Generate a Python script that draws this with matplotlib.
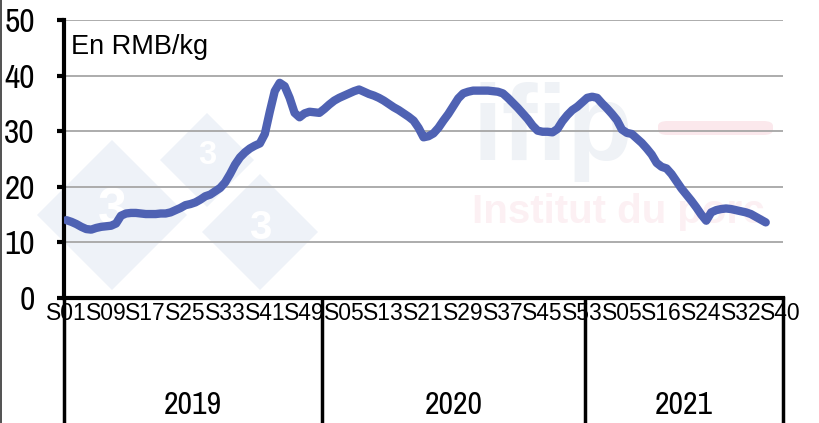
import matplotlib
matplotlib.use("Agg")
import matplotlib.pyplot as plt
from matplotlib import font_manager as fm
from matplotlib.patches import Polygon, FancyBboxPatch

# 豚価格（中国）RMB/kg、週次
price_2019 = [14.0, 13.7, 13.3, 12.8, 12.4, 12.3, 12.6, 12.8, 12.9, 13.0,
              13.4, 14.8, 15.2, 15.3, 15.3, 15.2, 15.1, 15.1, 15.1, 15.2,
              15.2, 15.4, 15.8, 16.2, 16.7, 16.9, 17.2, 17.7, 18.3, 18.6,
              19.2, 19.8, 20.8, 22.3, 24.0, 25.3, 26.2, 26.9, 27.4, 27.8,
              29.5, 33.5, 37.2, 38.7, 38.1, 36.0, 33.3, 32.5, 33.2, 33.5,
              33.4, 33.3]
price_2020 = [34.0, 34.8, 35.5, 36.0, 36.4, 36.8, 37.2, 37.5, 37.1, 36.7,
              36.4, 36.0, 35.5, 34.9, 34.3, 33.8, 33.2, 32.6, 31.9, 30.6,
              28.9, 29.1, 29.6, 30.6, 31.9, 33.1, 34.5, 35.9, 36.8, 37.1,
              37.3, 37.3, 37.3, 37.3, 37.2, 37.1, 36.8, 36.0, 35.1, 34.2,
              33.2, 32.2, 31.0, 30.1, 29.9, 29.9, 29.8, 30.4, 31.8, 32.9,
              33.8, 34.4, 35.2]
price_2021 = [36.0, 36.2, 36.0, 35.0, 34.1, 33.1, 32.0, 30.3, 29.7, 29.5,
              28.7, 27.9, 26.9, 25.8, 24.3, 23.6, 23.3, 22.3, 21.0, 19.7,
              18.6, 17.5, 16.3, 15.0, 13.9, 15.4, 15.8, 16.0, 16.1, 16.0,
              15.8, 15.6, 15.4, 15.1, 14.6, 14.1, 13.6]
n_2021 = 40  # 2021 のカテゴリ数（S40 まで）

years = ["2019", "2020", "2021"]
week_labels = ["S01", "S09", "S17", "S25", "S33", "S41", "S49",
               "S05", "S13", "S21", "S29", "S37", "S45", "S53",
               "S05", "S16", "S24", "S32", "S40"]
label_step = 8

LINE = "#4f62b3"


def condensed_font(size):
    """Narrow / condensed な書体を探す（無ければ Liberation Sans）"""
    cands = []
    for f in fm.fontManager.ttflist:
        narrow = ("Narrow" in f.name or "Condensed" in f.name
                  or f.stretch in ("condensed", "semi-condensed", 400, 300))
        if narrow and f.style == "normal" and f.weight in ("normal", 400, "regular"):
            cands.append(f)
    if cands:
        cands.sort(key=lambda f: (0 if "Liberation" in f.name else 1, f.name))
        return fm.FontProperties(fname=cands[0].fname, size=size)
    return fm.FontProperties(family="Liberation Sans", size=size * 0.85)


fig = plt.figure(figsize=(8.2, 4.23), dpi=100)
ax = fig.add_axes([0.078, 0.2955, 0.877, 0.6572])
ax.set_zorder(1)
ax.set_facecolor("none")

# 透かし（ifip ロゴ）
W, H = 820, 423
for cx, cy, r in [(112, 215, 75), (207, 160, 47), (260, 232, 58)]:
    fx, fy, rx, ry = cx / W, 1 - cy / H, r / W, r / H
    fig.patches.append(Polygon([(fx - rx, fy), (fx, fy + ry), (fx + rx, fy), (fx, fy - ry)],
                               closed=True, transform=fig.transFigure,
                               facecolor="#eef2f8", edgecolor="none", zorder=0))
    fig.text(fx, fy + 0.01, "3", fontsize=r * 0.5, fontweight="bold", color="white",
             family="Liberation Sans", ha="center", va="center", zorder=0.2)
fig.text(473 / W, 1 - 160 / H, "ifip", fontsize=77, fontweight="bold",
         family="Liberation Sans", color="#eff2f6", ha="left", va="baseline", zorder=0.2)
fig.text(472 / W, 1 - 223 / H, "Institut du porc", fontsize=29, fontweight="bold",
         family="Liberation Sans", color="#fcf0f3", ha="left", va="baseline", zorder=0.2)
fig.patches.append(FancyBboxPatch((658 / W, 1 - 135 / H), 115 / W, 14 / H,
                                  boxstyle="round,pad=0,rounding_size=0.012",
                                  transform=fig.transFigure, facecolor="#fbe8ec",
                                  edgecolor="none", zorder=0))

values = price_2019 + price_2020 + price_2021
n_total = len(price_2019) + len(price_2020) + n_2021
x = list(range(len(values)))
ax.plot(x, values, color=LINE, lw=6, solid_capstyle="round",
        solid_joinstyle="round", zorder=3)

ax.set_xlim(-0.5, n_total - 0.5)
ax.set_ylim(0, 50)
ax.set_yticks(range(0, 51, 10))
ax.grid(axis="y", color="#a6a6a6", lw=1.3)
ax.set_axisbelow(True)
for s in ["top", "right"]:
    ax.spines[s].set_visible(False)
ax.spines["left"].set_linewidth(3)
ax.spines["bottom"].set_linewidth(3)
ax.tick_params(axis="y", length=5, width=3, pad=16)
for t in ax.get_yticklabels():
    t.set_fontproperties(condensed_font(24))

ax.set_xticks(range(0, n_total, label_step))
ax.set_xticklabels(week_labels, fontsize=16.5, family="Liberation Sans")
ax.tick_params(axis="x", length=0, pad=3)

# 年の区切り（多段軸）
bounds = [0, len(price_2019), len(price_2019) + len(price_2020), n_total]
trans = ax.get_xaxis_transform()
for b in bounds:
    ax.plot([b - 0.5, b - 0.5], [0, -0.46], color="black", lw=2.5,
            transform=trans, clip_on=False)
for yr, a, b in zip(years, bounds[:-1], bounds[1:]):
    ax.text((a + b - 1) / 2, -0.385, yr, transform=trans, ha="center",
            va="center", fontproperties=condensed_font(23))

ax.text(0.01, 0.903, "En RMB/kg", transform=ax.transAxes, fontsize=19.5,
        family="Liberation Sans", va="center")

fig.add_artist(plt.Line2D([0.0015, 0.0015], [0, 1], color="#333333", lw=1.2,
                          transform=fig.transFigure))

fig.savefig("out.png", dpi=100)
